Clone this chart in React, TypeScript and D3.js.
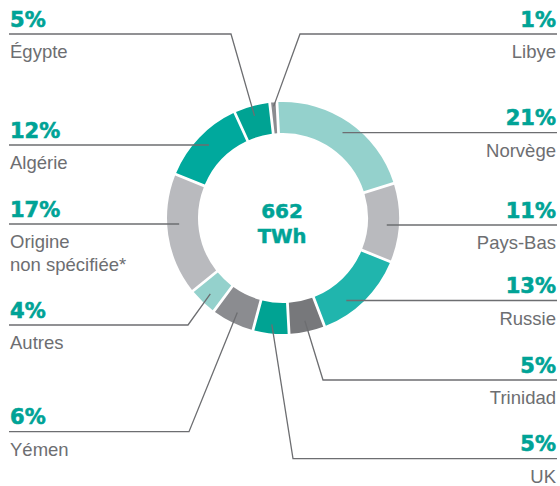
import React from "react";
import * as d3 from "d3";

const countries = ["Norvège", "Pays-Bas", "Russie", "Trinidad", "UK", "Yémen", "Autres", "Origine\nnon spécifiée*", "Algérie", "Égypte", "Libye"];
const shares = [21, 11, 13, 5, 5, 6, 4, 17, 12, 5, 1];
const colors = ["#94d1cc", "#b9babe", "#20b5ad", "#77787b", "#00a393", "#8b8c90", "#94d1cc", "#b9babe", "#00a99d", "#00a393", "#8b8c90"];
const totalLabel = ["662", "TWh"];

// label layout (side, leader line y, elbow x or null for straight lines)
const labelSide = ["right", "right", "right", "right", "right", "left", "left", "left", "left", "left", "right"];
const labelLineY = [132.7, 225, 300.5, 380, 458.7, 431.7, 325, 224, 145, 34, 34];
const labelElbowX: (number | null)[] = [null, null, null, 323, 293, 189, 188, null, null, 231, 300];
const leaderR = [104, 104, 104, 105, 107, 105, 105, 104, 104, 106, 112];

const W = 560, H = 486;
const cx = 283, cy = 218;
const rOuter = 116, rInner = 85;
const TEAL = "#00a396";
const GREY_TEXT = "#6d6e71";
const LINE = "#6d6e71";
const xLeft = 9, xRight = 557;

export default function App() {
  const rot = (-3 * Math.PI) / 180;
  const pie = d3.pie<number>().sort(null).value((d) => d).startAngle(rot).endAngle(rot + 2 * Math.PI);
  const arcs = pie(shares);
  const arc = d3.arc<d3.PieArcDatum<number>>().innerRadius(rInner).outerRadius(rOuter).padAngle(0.028).padRadius(100);

  const pctFont = "'DejaVu Sans', sans-serif";
  const nameFont = "'Liberation Sans', Arial, sans-serif";

  return (
    <svg width={W} height={H} style={{ position: "absolute", left: 0, top: 0 }}>
      <rect width={W} height={H} fill="#fff" />
      <g transform={`translate(${cx},${cy})`}>
        {arcs.map((a, i) => (
          <path key={i} d={arc(a) || ""} fill={colors[i]} />
        ))}
      </g>
      {arcs.map((a, i) => {
        const mid = (a.startAngle + a.endAngle) / 2;
        const side = labelSide[i];
        const ly = labelLineY[i];
        const ex = labelElbowX[i];
        let endX: number, endY: number;
        if (ex === null) {
          const dy = ly - cy;
          const r = leaderR[i];
          const dx = Math.sqrt(Math.max(0, r * r - dy * dy));
          endX = side === "right" ? cx + dx : cx - dx;
          endY = ly;
        } else {
          endX = cx + leaderR[i] * Math.sin(mid);
          endY = cy - leaderR[i] * Math.cos(mid);
        }
        const x0 = side === "right" ? xRight : xLeft;
        const pts: [number, number][] = ex === null ? [[x0, ly], [endX, endY]] : [[x0, ly], [ex, ly], [endX, endY]];
        const line = d3.line()(pts) || "";
        const tx = side === "right" ? 556 : 10;
        const anchor = side === "right" ? "end" : "start";
        const nameLines = countries[i].split("\n");
        return (
          <g key={"l" + i}>
            <path d={line} fill="none" stroke={LINE} strokeWidth={1.3} />
            <text x={tx} y={ly - 7.5} textAnchor={anchor} fill={TEAL} stroke={TEAL} strokeWidth={0.6} fontFamily={pctFont} fontWeight="bold" fontSize={21}>
              {shares[i]}%
            </text>
            {nameLines.map((t, j) => (
              <text key={j} x={tx} y={ly + 24 + j * 22.5} textAnchor={anchor} fill={GREY_TEXT} fontFamily={nameFont} fontSize={18.5}>
                {t}
              </text>
            ))}
          </g>
        );
      })}
      <text x={cx - 1} y={218} textAnchor="middle" fill={TEAL} stroke={TEAL} strokeWidth={0.5} fontFamily={pctFont} fontWeight="bold" fontSize={20}>
        {totalLabel[0]}
      </text>
      <text x={cx - 1} y={243} textAnchor="middle" fill={TEAL} stroke={TEAL} strokeWidth={0.5} fontFamily={pctFont} fontWeight="bold" fontSize={19.5}>
        {totalLabel[1]}
      </text>
    </svg>
  );
}
